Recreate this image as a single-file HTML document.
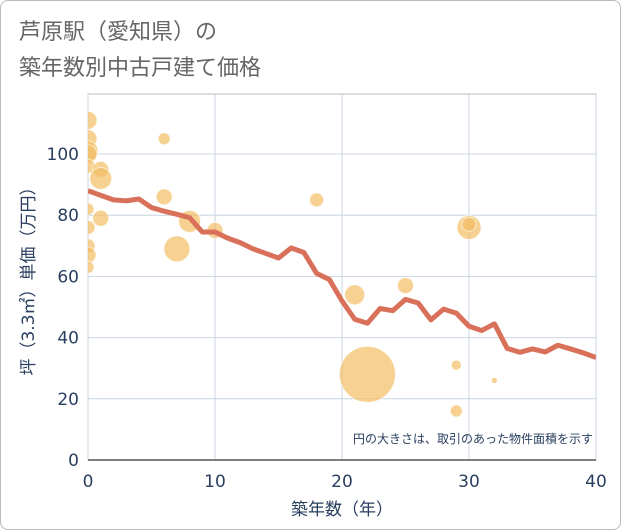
<!DOCTYPE html>
<html><head><meta charset="utf-8"><style>
body{margin:0;background:#fff;font-family:"Liberation Sans","Noto Sans CJK JP",sans-serif}
.wrap{position:relative;width:619px;height:528px;border:1px solid #bbb;border-radius:8px;overflow:hidden}
.title{position:absolute;left:18px;top:14px;font-size:22px;line-height:36px;color:#666;font-family:"DejaVu Sans","Noto Sans CJK JP",sans-serif}
svg text{font-family:"DejaVu Sans","Noto Sans CJK JP",sans-serif}
</style></head><body>
<div class="wrap">
<div class="title">芦原駅（愛知県）の<br>築年数別中古戸建て価格</div>
<svg id="chart" width="621" height="530" style="position:absolute;left:-1px;top:-1px"></svg>
</div>
<script>
const lineYears=[0,1,2,3,4,5,6,7,8,9,10,11,12,13,14,15,16,17,18,19,20,21,22,23,24,25,26,27,28,29,30,31,32,33,34,35,36,37,38,39,40];
const lineValues=[88,86.5,85,84.7,85.3,82.5,81.3,80.3,79.2,74.5,74.5,72.5,71,69,67.5,66,69.3,67.8,61,59,52,46,44.7,49.5,48.8,52.5,51.3,45.8,49.3,48,43.7,42.3,44.5,36.5,35.2,36.3,35.3,37.5,36.3,35,33.5];
const bubbleX=[0,0,0,0,0,1,1,0,0,0,0,0,1,6,6,7,8,10,18,21,22,25,29,29,30,30,32];
const bubbleY=[111,105,101,100,96,95,92,82,76,70,67,63,79,105,86,69,78,75,85,54,28,57,31,16,76,77,26];
const bubbleR=[9,9,10,9,7,8,11,6,7,7,8,6,8,6,8,13,11,8,7,10,28,8,5,6,12,7,3];
const xTicks=[0,10,20,30,40];
const yTicks=[0,20,40,60,80,100];
const NS="http://www.w3.org/2000/svg";
const svg=document.getElementById('chart');
const X0=88,X1=596,Y0=460,Y1=94;
const sx=v=>X0+v*(X1-X0)/40;
const sy=v=>Y0-v*3.06;
function mk(t,a,p){const e=document.createElementNS(NS,t);for(const k in a)e.setAttribute(k,a[k]);(p||svg).appendChild(e);return e;}
const defs=mk('defs',{});
const cp=mk('clipPath',{id:'clip'},defs);
mk('rect',{x:X0,y:Y1,width:X1-X0,height:Y0-Y1},cp);
const frame=mk('rect',{x:X0,y:Y1,width:X1-X0,height:Y0-Y1,fill:'none',stroke:'#bbb'});


xTicks.forEach(t=>{
 const l=mk('line',{x1:sx(t),x2:sx(t),y1:Y1,y2:Y0,stroke:'#c8d4e0','stroke-width':1});
 
 
 const tx=mk('text',{x:sx(t),y:487,'text-anchor':'middle','font-size':17,fill:'#2a3f5f'});tx.textContent=t;
 
 
});
yTicks.forEach(t=>{
 const l=mk('line',{x1:X0,x2:X1,y1:sy(t),y2:sy(t),stroke:'#c8d4e0','stroke-width':1});
 
 
 const tx=mk('text',{x:79,y:sy(t)+6,'text-anchor':'end','font-size':17,fill:'#2a3f5f'});tx.textContent=t;
 
 
});
const ax=mk('line',{x1:X0,x2:X1,y1:Y0,y2:Y0,stroke:'#555','stroke-width':1.5});


const g=mk('g',{'clip-path':'url(#clip)'});


bubbleX.forEach((x,i)=>{
 const c=mk('circle',{cx:sx(x),cy:sy(bubbleY[i]),r:bubbleR[i],fill:'rgba(242,190,100,0.7)',stroke:'rgba(255,255,255,0.6)','stroke-width':1},g);
 
 
});
const pl=mk('polyline',{points:lineYears.map((x,i)=>sx(x)+','+sy(lineValues[i])).join(' '),fill:'none',stroke:'#d9705a','stroke-width':5,'stroke-linejoin':'round'},g);


const note=mk('text',{x:593,y:443,'text-anchor':'end','font-size':12,fill:'#2a3f5f'});note.textContent='円の大きさは、取引のあった物件面積を示す';


const xt=mk('text',{x:342,y:515,'text-anchor':'middle','font-size':17,fill:'#2a3f5f'});xt.textContent='築年数（年）';


const yt=mk('text',{x:0,y:0,'text-anchor':'middle','font-size':17,fill:'#2a3f5f',transform:'translate(34,277) rotate(-90)'});yt.textContent='坪（3.3㎡）単価（万円）';


</script>
</body></html>
